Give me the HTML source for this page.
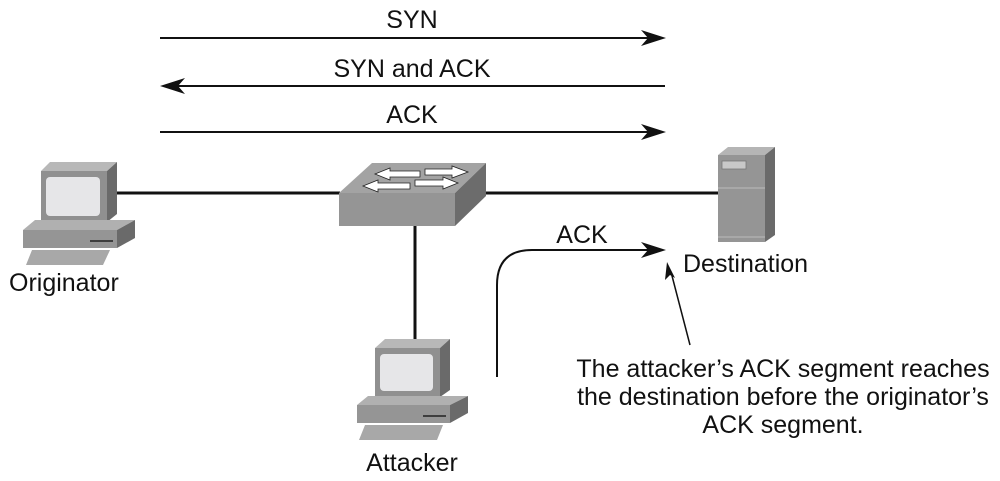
<!DOCTYPE html>
<html><head><meta charset="utf-8"><style>
html,body{margin:0;padding:0;background:#fff;}
svg{display:block;}
text{font-family:"Liberation Sans",Arial,sans-serif;font-size:25px;fill:#111;}
</style></head><body>
<svg width="1000" height="481" viewBox="0 0 1000 481" xmlns="http://www.w3.org/2000/svg">
<!-- top arrows -->
<text x="412" y="28" text-anchor="middle">SYN</text>
<line x1="160" y1="38" x2="650" y2="38" stroke="#111" stroke-width="2"/>
<polygon points="666,38 641,30 648,38 641,46" fill="#111"/>
<text x="412" y="77" text-anchor="middle">SYN and ACK</text>
<line x1="175" y1="86" x2="665" y2="86" stroke="#111" stroke-width="2"/>
<polygon points="160,86 185,78 178,86 185,94" fill="#111"/>
<text x="412" y="123" text-anchor="middle">ACK</text>
<line x1="160" y1="132" x2="650" y2="132" stroke="#111" stroke-width="2"/>
<polygon points="666,132 641,124 648,132 641,140" fill="#111"/>

<!-- network lines -->
<line x1="117" y1="193" x2="340" y2="193" stroke="#111" stroke-width="3"/>
<line x1="486" y1="193" x2="720" y2="193" stroke="#111" stroke-width="3"/>
<line x1="415" y1="226" x2="415" y2="342" stroke="#111" stroke-width="3"/>

<!-- Originator PC -->
<g>
<polygon points="41,171 50,162 117,162 107,171" fill="#b8b8b8"/>
<polygon points="107,171 117,162 117,214 107,222" fill="#6a6a6a"/>
<rect x="41" y="171" width="66" height="51" fill="#909090"/>
<rect x="46" y="177" width="54" height="39" rx="4" fill="#e6e6e8"/>
<polygon points="23,230 35,220 135,220 117,230" fill="#b0b0b0"/>
<rect x="23" y="230" width="94" height="18" fill="#959595"/>
<polygon points="117,230 135,220 135,238 117,248" fill="#6a6a6a"/>
<line x1="90" y1="241" x2="113" y2="241" stroke="#222" stroke-width="1.5"/>
<polygon points="32,250 110,250 103,265 26,265" fill="#a8a8a8"/>
</g>
<text x="9" y="291">Originator</text>

<!-- Switch -->
<polygon points="339,193 372,163 486,163 455,193" fill="#a3a3a3"/>
<rect x="339" y="193" width="116" height="33" fill="#959595"/>
<polygon points="455,193 486,163 486,196 455,226" fill="#6c6c6c"/>
<g fill="#fff" stroke="#222" stroke-width="0.8">
<polygon points="375,174 390,168 390,171 420,171 420,177 390,177 390,180"/>
<polygon points="468,172 452,166 452,169 425,169 425,175 452,175 452,178"/>
<polygon points="363,186 378,180 378,183 410,183 410,189 378,189 378,192"/>
<polygon points="458,183 443,177 443,180 415,180 415,186 443,186 443,189"/>
</g>

<!-- Server -->
<polygon points="718,155 728,147 775,147 765,155" fill="#b5b5b5"/>
<rect x="718" y="155" width="47" height="87" fill="#959595"/>
<polygon points="765,155 775,147 775,235 765,242" fill="#6a6a6a"/>
<rect x="722" y="161" width="24" height="8" fill="#c8c8c8" stroke="#777" stroke-width="0.8"/>
<line x1="718" y1="188" x2="765" y2="188" stroke="#bbb" stroke-width="1"/>
<line x1="718" y1="237" x2="765" y2="237" stroke="#bbb" stroke-width="1"/>
<text x="683" y="272">Destination</text>

<!-- Attacker PC -->
<g>
<polygon points="375,348 385,339 450,339 440,348" fill="#b8b8b8"/>
<polygon points="440,348 450,339 450,390 440,397" fill="#6a6a6a"/>
<rect x="375" y="348" width="65" height="49" fill="#909090"/>
<rect x="380" y="354" width="53" height="37" rx="4" fill="#e6e6e8"/>
<polygon points="357,405 368,396 468,396 450,405" fill="#b0b0b0"/>
<rect x="357" y="405" width="93" height="18" fill="#959595"/>
<polygon points="450,405 468,396 468,413 450,423" fill="#6a6a6a"/>
<line x1="423" y1="416" x2="446" y2="416" stroke="#222" stroke-width="1.5"/>
<polygon points="365,425 443,425 437,440 359,440" fill="#a8a8a8"/>
</g>
<text x="412" y="471" text-anchor="middle">Attacker</text>

<!-- Attacker ACK -->
<text x="582" y="243" text-anchor="middle">ACK</text>
<path d="M497,377 L497,285 Q497,250 532,250 L650,250" fill="none" stroke="#111" stroke-width="2"/>
<polygon points="666,250 641,242 648,250 641,258" fill="#111"/>

<!-- pointer -->
<line x1="690" y1="345" x2="671" y2="272" stroke="#111" stroke-width="1.5"/>
<polygon points="667,262 665,280 670,275 675,278" fill="#111"/>

<text x="783" y="377" text-anchor="middle">The attacker’s ACK segment reaches</text>
<text x="783" y="405" text-anchor="middle">the destination before the originator’s</text>
<text x="783" y="433" text-anchor="middle">ACK segment.</text>
</svg>
</body></html>
